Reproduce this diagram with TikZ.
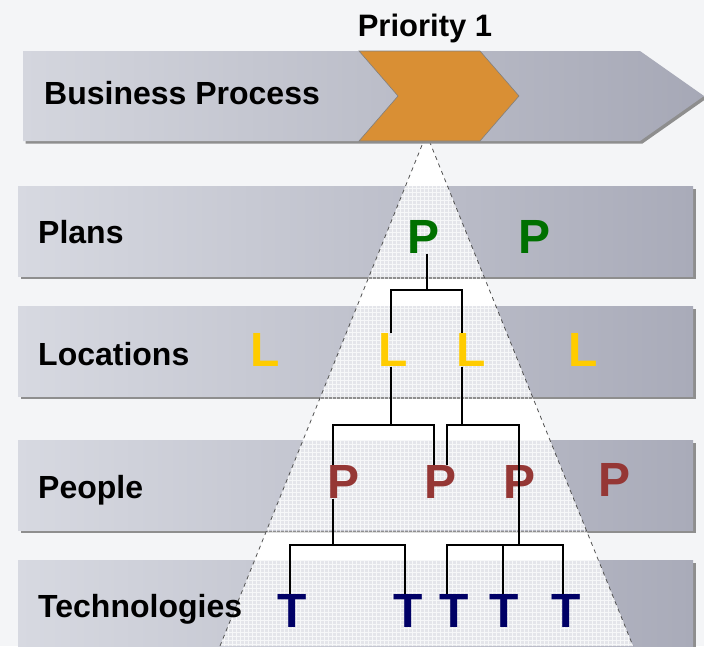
\documentclass[tikz,border=0pt]{standalone}
\usepackage{fontspec}
\setmainfont{Liberation Sans}
\definecolor{bggray}{HTML}{F4F5F7}
\definecolor{bandL}{HTML}{D7D9E1}
\definecolor{bandR}{HTML}{A9ABB9}
\definecolor{barL}{HTML}{D4D6DE}
\definecolor{barR}{HTML}{A6A8B6}
\definecolor{shadowgray}{HTML}{8E8E8E}
\definecolor{conefill}{HTML}{E4E5EA}
\definecolor{conegray}{HTML}{505050}
\definecolor{prioorange}{HTML}{D98F34}
\definecolor{plangreen}{HTML}{007000}
\definecolor{locyellow}{HTML}{FFCC00}
\definecolor{pplred}{HTML}{953735}
\definecolor{technavy}{HTML}{000066}
\begin{document}
\begin{tikzpicture}[x=1pt,y=-1pt,
  band/.style={left color=bandL,right color=bandR},
  rowlabel/.style={anchor=base west,inner sep=0pt,font=\fontsize{32}{36}\selectfont\bfseries},
  letter/.style={inner sep=0pt,font=\fontsize{48}{56}\selectfont\bfseries},
  link/.style={draw=black,line width=1.1pt},
  conedash/.style={draw=conegray,line width=0.8pt,dash pattern=on 4pt off 4pt}]
\def\cone{(426.5,134) -- (220,646) -- (633,646) -- cycle}
\def\bizbar{(23,51) -- (640,51) -- (704,96) -- (640,141) -- (23,141) -- cycle}

\fill[bggray] (0,0) rectangle (704,646);
\useasboundingbox (0,0) rectangle (704,646);

% the cone behind the rows
\fill[white] \cone;
\foreach \t/\b in {186/276,306/396,440/530,560/650} {
  \fill[shadowgray] (20.5,\t+2.5) rectangle (695.5,\b+2.5);
  \shade[band] (18,\t) rectangle (693,\b);
}
\begin{scope}
\clip \cone;
\foreach \t/\b in {186/276,306/396,440/530,560/650}
  \fill[conefill] (18,\t) rectangle (693,\b);
\draw[white,line width=0.6pt,opacity=0.7] (200,130) grid[step=4pt] (704,650);
\end{scope}
\draw[conedash] (220,646) -- (426.5,134) -- (633,646);

% business process arrow
\fill[shadowgray,shift={(2.5,2.5)}] \bizbar;
\shade[left color=barL,right color=barR] \bizbar;
\filldraw[fill=prioorange,draw=gray,line width=0.6pt]
  (359,51) -- (480,51) -- (519,96) -- (480,141) -- (359,141) -- (398,96) -- cycle;

\node[rowlabel] (bizlabel) at (44,104) {Business Process};
\node[rowlabel,anchor=base,font=\fontsize{31}{36}\selectfont\bfseries] (prio) at (425,36) {Priority 1};
\node[rowlabel] (planlabel) at (38,243) {Plans};
\node[rowlabel] (loclabel) at (38,365) {Locations};
\node[rowlabel] (ppllabel) at (38,498) {People};
\node[rowlabel] (techlabel) at (38,617) {Technologies};

% letters
\node[letter,text=plangreen] (plan1) at (424,237) {P};
\node[letter,text=plangreen] (plan2) at (535,237) {P};
\node[letter,text=locyellow] (loc1) at (265,350) {L};
\node[letter,text=locyellow] (loc2) at (393,350) {L};
\node[letter,text=locyellow] (loc3) at (471,350) {L};
\node[letter,text=locyellow] (loc4) at (583,350) {L};
\node[letter,text=pplred] (ppl1) at (344,482) {P};
\node[letter,text=pplred] (ppl2) at (441,482) {P};
\node[letter,text=pplred] (ppl3) at (520,482) {P};
\node[letter,text=pplred] (ppl4) at (614,480) {P};
\node[letter,text=technavy] (tech1) at (292,611) {T};
\node[letter,text=technavy] (tech2) at (408,611) {T};
\node[letter,text=technavy] (tech3) at (454,611) {T};
\node[letter,text=technavy] (tech4) at (504,611) {T};
\node[letter,text=technavy] (tech5) at (566,611) {T};

% tree links
\coordinate (rowA) at (0,290);
\coordinate (rowB) at (0,425);
\coordinate (rowC) at (0,545);
\draw[link] ([xshift=3pt]plan1.south) -- ([xshift=3pt]plan1.south |- rowA);
\draw[link] ([xshift=-2pt]loc2.north) -- ([xshift=-2pt]loc2.north |- rowA) -| ([xshift=-9pt]loc3.north);
\draw[link] ([xshift=-2pt]loc2.south) -- ([xshift=-2pt]loc2.south |- rowB);
\draw[link] ([xshift=-11pt]ppl1.north) -- ([xshift=-11pt]ppl1.north |- rowB) -| ([xshift=-7pt]ppl2.north);
\draw[link] ([xshift=-9pt]loc3.south) -- ([xshift=-9pt]loc3.south |- rowB);
\draw[link] ([xshift=6pt]ppl2.north) -- ([xshift=6pt]ppl2.north |- rowB) -| ([xshift=-1pt]ppl3.south |- rowC);
\draw[link] ([xshift=-11pt]ppl1.south) -- ([xshift=-11pt]ppl1.south |- rowC);
\draw[link] ([xshift=-2pt]tech1.north) -- ([xshift=-2pt]tech1.north |- rowC) -| ([xshift=-3pt]tech2.north);
\draw[link] ([xshift=-7pt]tech3.north) -- ([xshift=-7pt]tech3.north |- rowC) -| ([xshift=-3pt]tech5.north);
\draw[link] ([xshift=-1pt]tech4.north) -- ([xshift=-1pt]tech4.north |- rowC);
\end{tikzpicture}
\end{document}
